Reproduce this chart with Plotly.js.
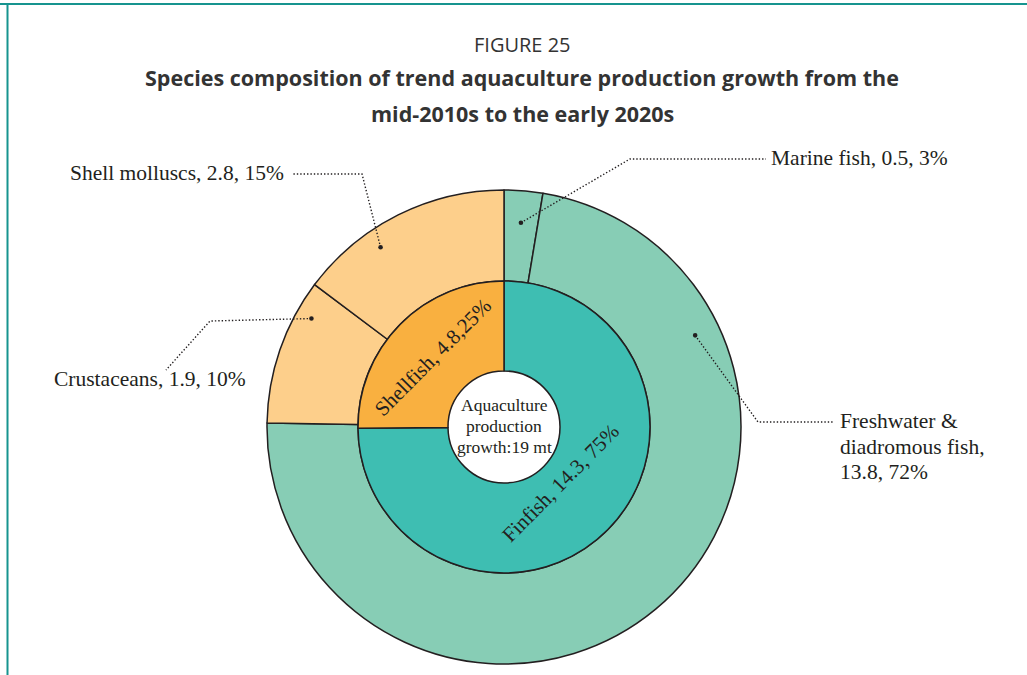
<!DOCTYPE html>
<html>
<head>
<meta charset="utf-8">
<script src="https://cdn.plot.ly/plotly-3.0.1.min.js"></script>
<style>html,body{margin:0;padding:0;background:#fff;}#chart{width:1027px;height:675px;}</style>
</head>
<body>
<div id="chart"></div>
<script>
// ---- Data ----
var innerLabels = ['Finfish', 'Shellfish'];
var innerValues = [14.3, 4.8];
var innerPct = ['75%', '25%'];
var innerSep = [', ', ','];

var outerLabels = ['Marine fish', 'Freshwater & diadromous fish', 'Crustaceans', 'Shell molluscs'];
var outerValues = [0.5, 13.8, 1.9, 2.8];
var outerPct = ['3%', '72%', '10%', '15%'];

var centerLines = ['Aquaculture', 'production', 'growth:19 mt'];
var figureNo = 'FIGURE 25';
var titleLines = ['Species composition of trend aquaculture production growth from the', 'mid-2010s to the early 2020s'];

// ---- Layout constants ----
var W = 1027, H = 675;
var CX = 504, CY = 427;      // pie centre (px)
var R_OUT = 237, R_MID = 146, R_HOLE = 56;
function px(x){ return x / W; }
function py(y){ return 1 - y / H; }

var fishOuter = '#87CDB5', fishInner = '#3EBEB2';
var shellOuter = '#FDCF8B', shellInner = '#F9B040';
var edge = '#231F20';
var serif = 'Liberation Serif, Times New Roman, serif';

var outerTrace = {
  type: 'pie', values: outerValues, labels: outerLabels, sort: false, direction: 'clockwise', rotation: 0,
  hole: R_MID / R_OUT, textinfo: 'none', showlegend: false, hoverinfo: 'label+value',
  marker: {colors: [fishOuter, fishOuter, shellOuter, shellOuter], line: {color: edge, width: 1.5}},
  domain: {x: [px(CX - R_OUT), px(CX + R_OUT)], y: [py(CY + R_OUT), py(CY - R_OUT)]}
};
var innerTrace = {
  type: 'pie', values: innerValues, labels: innerLabels, sort: false, direction: 'clockwise', rotation: 0,
  hole: R_HOLE / R_MID, textinfo: 'none', showlegend: false, hoverinfo: 'label+value',
  marker: {colors: [fishInner, shellInner], line: {color: edge, width: 1.5}},
  domain: {x: [px(CX - R_MID), px(CX + R_MID)], y: [py(CY + R_MID), py(CY - R_MID)]}
};

var shapes = [];
var annotations = [];

// ---- Inner ring labels: tangential, placed at slice mid-angle ----
var innerTotal = innerValues.reduce(function(a, b){ return a + b; }, 0);
var innerRadius = [80, 100];  // text radius (px)
var acc = 0;
innerValues.forEach(function(v, i){
  var midDeg = (acc + v / 2) / innerTotal * 360;
  acc += v;
  var a = midDeg * Math.PI / 180;
  var tx = CX + innerRadius[i] * Math.sin(a), ty = CY - innerRadius[i] * Math.cos(a);
  var ang = (midDeg > 90 && midDeg < 270) ? midDeg - 180 : midDeg;
  if (ang > 180) ang -= 360;
  annotations.push({xref: 'paper', yref: 'paper', x: px(tx), y: py(ty), xanchor: 'center', yanchor: 'middle',
    showarrow: false, textangle: ang, text: innerLabels[i] + ', ' + innerValues[i] + innerSep[i] + innerPct[i],
    font: {family: serif, size: 21, color: edge}});
});

// ---- Leader lines computed from outer slice angles ----
var total = outerValues.reduce(function(a, b){ return a + b; }, 0);
var cum = [0];
outerValues.forEach(function(v, i){ cum.push(cum[i] + v); });
var leaders = [
  {i: 0, frac: 0.5, r: 205, pts: [[630, 159], [766, 159]], tx: 769, ty: 158, xa: 'left'},
  {i: 1, frac: 0.21, r: 212, pts: [[758, 422], [834, 422]], tx: 838, ty: 421, xa: 'left'},
  {i: 2, frac: 0.79, r: 221, pts: [[210, 321], [166, 370]], tx: 248, ty: 379, xa: 'right'},
  {i: 3, frac: 0.35, r: 218, pts: [[362, 174], [293, 174]], tx: 286, ty: 173, xa: 'right'}
];
var labelFont = {family: serif, size: 21.5, color: edge};
leaders.forEach(function(L){
  var a0 = cum[L.i] / total * 2 * Math.PI, a1 = cum[L.i + 1] / total * 2 * Math.PI;
  var a = a0 + L.frac * (a1 - a0);
  var dx = CX + L.r * Math.sin(a), dy = CY - L.r * Math.cos(a);
  var path = 'M' + px(dx) + ',' + py(dy);
  L.pts.forEach(function(p){ path += ' L' + px(p[0]) + ',' + py(p[1]); });
  shapes.push({type: 'path', xref: 'paper', yref: 'paper', path: path, line: {color: edge, width: 1.4, dash: '1.4px,2px'}});
  shapes.push({type: 'circle', xref: 'paper', yref: 'paper', x0: px(dx - 2.3), x1: px(dx + 2.3), y0: py(dy + 2.3), y1: py(dy - 2.3),
    fillcolor: edge, line: {width: 0}});
  var lines;
  if (L.i === 1) {
    lines = ['Freshwater &amp;', 'diadromous fish,', outerValues[L.i] + ', ' + outerPct[L.i]];
  } else {
    lines = [outerLabels[L.i] + ', ' + outerValues[L.i] + ', ' + outerPct[L.i]];
  }
  lines.forEach(function(t, k){
    annotations.push({xref: 'paper', yref: 'paper', x: px(L.tx), y: py(L.ty + k * 25.5), xanchor: L.xa, yanchor: 'middle',
      align: 'left', showarrow: false, text: t, font: labelFont});
  });
});

// centre text
centerLines.forEach(function(t, k){
  annotations.push({xref: 'paper', yref: 'paper', x: px(CX), y: py(CY - 22 + k * 21), xanchor: 'center', yanchor: 'middle',
    showarrow: false, text: t, font: {family: serif, size: 17.5, color: edge}});
});
// titles
var sans = 'Open Sans, Noto Sans, sans-serif';
annotations.push({xref: 'paper', yref: 'paper', x: px(522), y: py(45), xanchor: 'center', yanchor: 'middle',
  showarrow: false, text: figureNo, font: {family: sans, size: 20, color: '#333333'}});
annotations.push({xref: 'paper', yref: 'paper', x: px(522), y: py(78), xanchor: 'center', yanchor: 'middle',
  showarrow: false, text: '<b>' + titleLines[0] + '</b>', font: {family: sans, size: 21.5, color: '#333333'}});
annotations.push({xref: 'paper', yref: 'paper', x: px(522), y: py(113), xanchor: 'center', yanchor: 'middle',
  showarrow: false, text: '<b>' + titleLines[1] + '</b>', font: {family: sans, size: 21.5, color: '#333333'}});

// frame
var teal = '#16948F';
shapes.push({type: 'line', xref: 'paper', yref: 'paper', x0: 0, x1: 1, y0: py(4), y1: py(4), line: {color: teal, width: 2}});
shapes.push({type: 'line', xref: 'paper', yref: 'paper', x0: px(7.5), x1: px(7.5), y0: py(4), y1: 0, line: {color: teal, width: 2}});

var layout = {
  width: W, height: H, margin: {l: 0, r: 0, t: 0, b: 0},
  paper_bgcolor: '#ffffff', plot_bgcolor: '#ffffff', showlegend: false,
  shapes: shapes, annotations: annotations
};
Plotly.newPlot('chart', [outerTrace, innerTrace], layout, {displayModeBar: false, staticPlot: true});
</script>
</body>
</html>
